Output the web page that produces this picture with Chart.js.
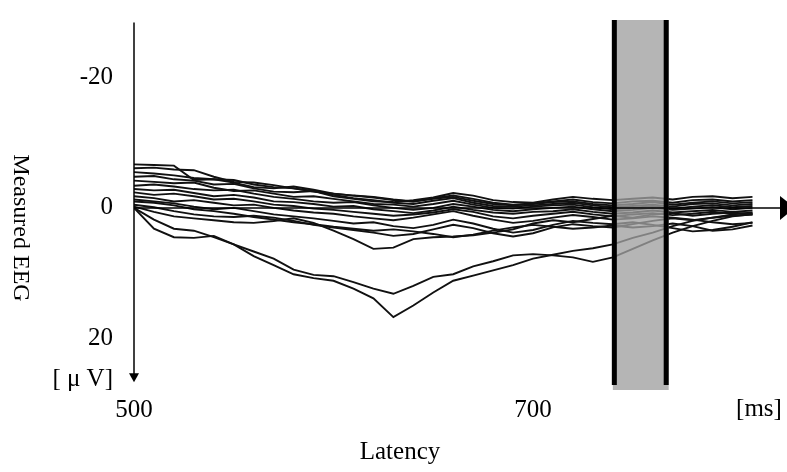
<!DOCTYPE html>
<html>
<head>
<meta charset="utf-8">
<script src="https://cdn.jsdelivr.net/npm/chart.js@4.4.1/dist/chart.umd.min.js"></script>
<style>
  body { margin: 0; background: #fff; }
  canvas { display: block; }
</style>
</head>
<body>
<canvas id="eegChart" width="787" height="472"></canvas>
<script>
// Latency samples [ms]
const latency = [500,510,520,530,540,550,560,570,580,590,600,610,620,630,640,650,
                 660,670,680,690,700,710,720,730,740,750,760,770,780,790,800,810];

// Measured EEG traces [uV] (negative is drawn upward)
const trace1  = [-6.7,-6.6,-6.5,-4.3,-4.4,-4.3,-3.6,-3.2,-3.0,-2.6,-1.8,-1.4,-1.0,-0.9,-1.2,-1.6,-2.3,-1.9,-1.2,-0.9,-0.8,-1.3,-1.7,-1.4,-1.2,-1.4,-1.6,-1.3,-1.7,-1.8,-1.5,-1.7];
const trace2  = [-6.1,-6.2,-5.9,-5.8,-4.8,-4.0,-3.9,-3.5,-3.0,-2.5,-2.2,-1.9,-1.6,-1.2,-1.0,-1.5,-1.9,-1.4,-0.8,-0.5,-0.7,-1.0,-1.3,-0.9,-0.7,-1.0,-1.1,-0.8,-1.2,-1.3,-1.0,-1.2];
const trace3  = [-5.5,-5.3,-5.0,-4.6,-4.4,-3.9,-3.2,-3.0,-3.3,-2.8,-2.2,-1.9,-1.7,-1.3,-1.0,-1.4,-1.7,-1.1,-0.6,-0.4,-0.6,-0.9,-1.0,-0.6,-0.4,-0.6,-0.9,-0.5,-0.8,-1.0,-0.7,-0.9];
const trace4  = [-4.8,-4.9,-4.4,-4.2,-3.6,-3.7,-3.0,-2.5,-2.4,-2.6,-2.0,-1.5,-1.2,-0.8,-0.6,-1.1,-1.5,-0.8,-0.3,-0.2,-0.4,-0.6,-0.8,-0.4,-0.1,-0.3,-0.5,-0.2,-0.6,-0.7,-0.4,-0.6];
const trace5  = [-4.2,-4.0,-3.8,-3.9,-3.1,-2.6,-2.7,-2.2,-1.7,-1.8,-1.4,-1.0,-0.6,-0.5,-0.2,-0.6,-1.1,-0.5,0.0,0.1,-0.2,-0.4,-0.5,-0.1,0.2,0.0,-0.3,0.1,-0.2,-0.4,-0.1,-0.3];
const trace6  = [-3.4,-3.6,-3.3,-2.9,-2.7,-2.8,-2.2,-1.7,-1.4,-1.0,-0.8,-0.9,-0.4,0.0,0.3,0.0,-0.6,-0.2,0.3,0.5,0.2,0.0,-0.2,0.2,0.5,0.3,0.0,0.3,0.1,-0.1,0.2,0.0];
const trace7  = [-2.9,-2.7,-2.8,-2.3,-1.8,-2.0,-1.6,-1.0,-0.9,-0.6,-0.2,-0.3,0.2,0.5,0.8,0.4,-0.2,0.3,0.7,0.9,0.6,0.5,0.2,0.6,0.9,0.7,0.4,0.7,0.5,0.3,0.6,0.4];
const trace8  = [-2.4,-2.0,-2.2,-1.8,-1.3,-1.4,-1.0,-0.5,-0.3,0.1,0.3,0.6,0.9,1.2,1.0,0.7,0.2,0.6,1.3,1.6,1.2,0.9,0.6,1.0,1.3,1.0,0.8,1.1,0.9,0.6,0.9,0.8];
const trace9  = [-1.8,-1.5,-1.0,-1.2,-0.8,-0.4,-0.5,0.0,0.4,0.7,0.9,1.3,1.6,1.9,1.5,1.0,0.5,1.2,1.8,2.3,2.0,1.5,1.1,1.4,1.8,1.6,1.3,1.5,1.8,2.2,2.5,2.3];
const trace10 = [-1.3,-1.0,-0.7,-0.2,0.2,0.0,0.5,1.0,1.3,1.6,2.0,2.4,2.2,2.8,3.1,2.6,1.8,2.4,3.2,3.8,3.4,2.6,2.0,2.3,2.5,2.2,2.6,3.1,3.6,3.4,2.9,2.2];
const trace11 = [-0.5,-0.1,0.5,1.0,1.3,1.4,1.2,1.5,2.0,2.6,3.0,3.4,3.8,4.3,4.0,3.3,2.6,3.1,3.9,4.4,3.9,3.0,2.5,2.8,3.0,2.5,2.0,1.6,1.9,1.5,1.2,1.0];
const trace12 = [-0.2,0.6,1.3,1.6,1.9,2.2,2.3,2.0,1.6,2.3,3.5,4.8,6.3,6.1,4.8,4.5,4.4,4.2,3.8,3.3,2.4,1.9,2.2,1.7,1.2,1.5,1.0,0.8,1.2,0.9,0.7,1.0];
const trace13 = [-1.0,-0.8,-0.4,0.2,0.5,0.9,1.4,1.8,2.2,2.5,2.9,3.2,3.5,3.3,3.6,4.0,4.5,4.1,3.5,3.0,2.6,2.9,3.2,3.0,2.7,3.0,2.8,2.4,2.8,3.5,3.3,2.7];
const trace14 = [0.0,3.2,4.5,4.6,4.3,5.6,7.4,8.8,10.2,10.8,11.2,12.4,13.9,16.8,15.0,13.0,11.2,10.4,9.6,8.8,7.8,7.2,6.6,6.2,5.6,4.6,3.8,2.8,2.0,1.5,1.0,0.7];
const trace15 = [0.0,1.8,3.2,3.5,4.5,5.6,6.7,7.8,9.5,10.3,10.5,11.4,12.4,13.2,12.0,10.6,10.2,9.0,8.2,7.3,7.1,7.3,7.6,8.3,7.6,6.3,5.0,3.8,2.8,2.0,1.3,1.0];

const traces = [trace1, trace2, trace3, trace4, trace5, trace6, trace7, trace8,
                trace9, trace10, trace11, trace12, trace13, trace14, trace15];

// Axis ticks and the marked latency window
const xTicks = [500, 700];
const yTicks = [-20, 0, 20];
const windowStart = 740;
const windowEnd = 768;

const FONT = "'Liberation Serif', 'Times New Roman', serif";

// Draws the shaded window, the arrowed axes and the axis captions
const decorPlugin = {
    id: "decor",
    afterDatasetsDraw(chart) {
        const { ctx, scales: { x, y } } = chart;
        const x0 = x.getPixelForValue(windowStart);
        const x1 = x.getPixelForValue(windowEnd);
        const top = y.getPixelForValue(y.min);
        const bottom = y.getPixelForValue(y.max);
        ctx.save();
        ctx.fillStyle = "rgba(160,160,160,0.78)";
        ctx.fillRect(x0, top, x1 - x0, bottom - top);
        ctx.fillStyle = "#000";
        ctx.fillRect(x0 - 1, top, 5, bottom - top - 5);
        ctx.fillRect(x1 - 5, top, 5, bottom - top - 5);
        ctx.restore();
    },
    afterDraw(chart) {
        const { ctx, scales: { x, y } } = chart;
        const ax = x.getPixelForValue(500);
        const zero = y.getPixelForValue(0);
        ctx.save();
        ctx.strokeStyle = "#000";
        ctx.fillStyle = "#000";

        // vertical axis with arrow pointing down
        const yTop = y.getPixelForValue(-28.5);
        const yEnd = y.getPixelForValue(26.8);
        ctx.lineWidth = 1.5;
        ctx.beginPath();
        ctx.moveTo(ax, yTop);
        ctx.lineTo(ax, yEnd - 6);
        ctx.stroke();
        ctx.beginPath();
        ctx.moveTo(ax - 5, yEnd - 9);
        ctx.lineTo(ax + 5, yEnd - 9);
        ctx.lineTo(ax, yEnd);
        ctx.closePath();
        ctx.fill();

        // horizontal zero line with arrow
        const xr = chart.chartArea.right;
        ctx.lineWidth = 1.5;
        ctx.beginPath();
        ctx.moveTo(ax, zero);
        ctx.lineTo(xr - 6, zero);
        ctx.stroke();
        ctx.beginPath();
        ctx.moveTo(xr - 7, zero - 12);
        ctx.lineTo(xr + 8, zero);
        ctx.lineTo(xr - 7, zero + 12);
        ctx.closePath();
        ctx.fill();

        // captions
        ctx.font = "25px " + FONT;
        ctx.textBaseline = "middle";
        ctx.textAlign = "right";
        ctx.fillText("[ \u03bc V]", ax - 21, y.getPixelForValue(26.4));
        ctx.textAlign = "center";
        ctx.fillText("[ms]", 759, x.bottom - x.height + 19);
        ctx.fillText("Latency", 400, 452);

        ctx.translate(20, 228);
        ctx.rotate(Math.PI / 2);
        ctx.font = "24px " + FONT;
        ctx.fillText("Measured EEG", 0, 0);
        ctx.restore();
    }
};

const ctx = document.getElementById("eegChart").getContext("2d");

new Chart(ctx, {
    type: "line",
    data: {
        datasets: traces.map(values => ({
            data: values.map((v, i) => ({ x: latency[i], y: v })),
            borderColor: "#111",
            borderWidth: 1.9,
            pointRadius: 0,
            tension: 0,
            fill: false
        }))
    },
    options: {
        responsive: false,
        animation: false,
        layout: { padding: { top: 20, right: 0, bottom: 0, left: 0 } },
        plugins: {
            legend: { display: false },
            tooltip: { enabled: false }
        },
        scales: {
            x: {
                type: "linear",
                min: 500,
                max: 827.3,
                afterBuildTicks: scale => { scale.ticks = xTicks.map(v => ({ value: v })); },
                afterFit: scale => {
                    scale.height = 82;
                    scale.paddingLeft = 0;
                    scale.paddingRight = 0;
                },
                ticks: {
                    color: "#000",
                    font: { family: FONT, size: 25 },
                    padding: 5,
                    maxRotation: 0,
                    callback: v => String(v)
                },
                grid: { display: false, drawTicks: false },
                border: { display: false }
            },
            y: {
                type: "linear",
                reverse: true,
                min: -28.9,
                max: 28,
                afterBuildTicks: scale => { scale.ticks = yTicks.map(v => ({ value: v })); },
                afterFit: scale => {
                    scale.width = 134;
                    scale.paddingTop = 0;
                    scale.paddingBottom = 0;
                },
                ticks: {
                    color: "#000",
                    font: { family: FONT, size: 25 },
                    padding: 21,
                    callback: v => String(v)
                },
                grid: { display: false, drawTicks: false },
                border: { display: false }
            }
        }
    },
    plugins: [decorPlugin]
});
</script>
</body>
</html>
